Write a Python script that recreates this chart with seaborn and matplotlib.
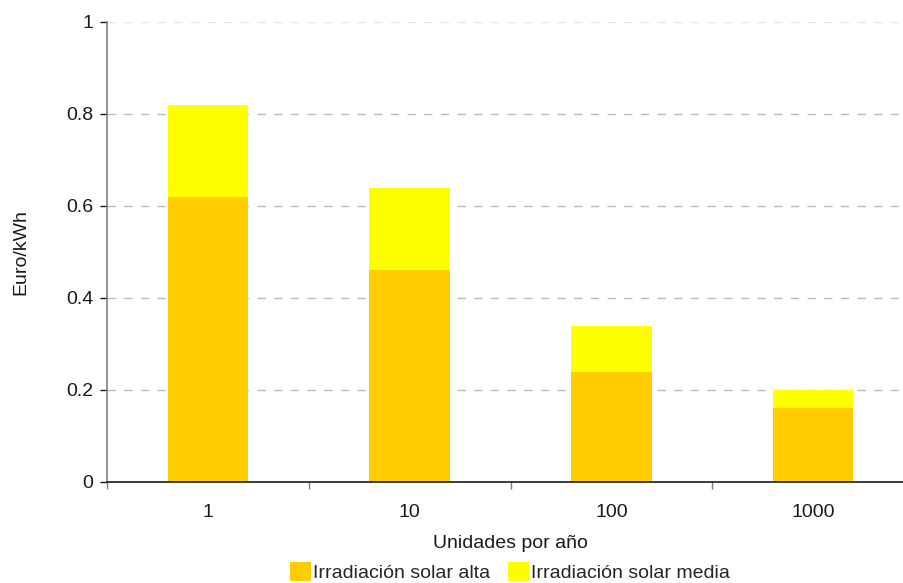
import matplotlib
matplotlib.use("Agg")
import matplotlib.pyplot as plt
import seaborn as sns
import pandas as pd
from matplotlib.patches import Patch

# Coste de la electricidad según unidades fabricadas por año
unidades = ["1", "10", "100", "1000"]
irradiacion_media = [0.82, 0.64, 0.34, 0.20]
irradiacion_alta = [0.62, 0.46, 0.24, 0.16]
yticks = [0, 0.2, 0.4, 0.6, 0.8, 1]
ytick_labels = ["0", "0.2", "0.4", "0.6", "0.8", "1"]

color_alta = "#FFCC00"
color_media = "#FFFF00"

df = pd.DataFrame({"unidades": unidades, "media": irradiacion_media, "alta": irradiacion_alta})

sns.set_theme(style="white")
plt.rcParams["font.family"] = ["Liberation Sans", "DejaVu Sans"]

FS = 14

fig = plt.figure(figsize=(9.04, 5.83), dpi=100)
ax = fig.add_axes([107 / 904, 1 - 482 / 583, (914 - 107) / 904, (482 - 22) / 583])

sns.barplot(data=df, x="unidades", y="media", order=unidades, color=color_media,
            width=0.4, saturation=1, ax=ax, zorder=2)
sns.barplot(data=df, x="unidades", y="alta", order=unidades, color=color_alta,
            width=0.4, saturation=1, ax=ax, zorder=3)
for p in ax.patches:
    p.set_edgecolor("none")
    p.set_linewidth(0)

ax.set_xlim(-0.5, 3.5)
ax.set_ylim(0, 1)
ax.set_yticks(yticks)
ax.set_yticklabels(ytick_labels, fontsize=FS, color="#1a1a1a")
ax.set_xticks(range(len(unidades)))
ax.set_xticklabels(unidades, fontsize=FS, color="#1a1a1a")
ax.set_xticks([i - 0.5 for i in range(len(unidades) + 1)], minor=True)
ax.tick_params(axis="x", which="major", length=0, pad=16)
ax.tick_params(axis="x", which="minor", length=5, width=1, color="#808080", direction="out", bottom=True)
ax.tick_params(axis="y", which="major", length=5, width=1, color="#1a1a1a", direction="out", left=True, pad=5)

for y in yticks[1:]:
    ax.axhline(y, color="#bbbbbb" if y < 1 else "#e6e6e6", linestyle=(0, (6, 6)), linewidth=1, zorder=1)

for side in ["top", "right"]:
    ax.spines[side].set_visible(False)
ax.spines["left"].set_color("#808080")
ax.spines["left"].set_linewidth(1.2)
ax.spines["bottom"].set_color("#1a1a1a")
ax.spines["bottom"].set_linewidth(1.2)
ax.spines["left"].set_zorder(4)
ax.spines["bottom"].set_zorder(4)

ax.set_ylabel("Euro/kWh", fontsize=FS, color="#1a1a1a", labelpad=26)
ax.set_xlabel("Unidades por año", fontsize=FS, color="#1a1a1a", labelpad=10)

handles = [Patch(facecolor=color_alta, edgecolor="none", label="Irradiación solar alta"),
           Patch(facecolor=color_media, edgecolor="none", label="Irradiación solar media")]
fig.legend(handles=handles, loc="center", bbox_to_anchor=(510 / 904, 1 - 572 / 583), ncol=2,
           frameon=False, fontsize=FS, handlelength=1.1, handleheight=1.1,
           handletextpad=0.1, columnspacing=0.9, borderaxespad=0)

fig.savefig("out.png", dpi=100)
